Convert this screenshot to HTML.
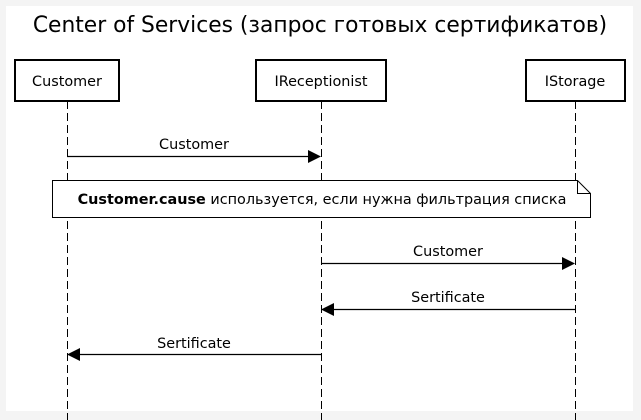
<!DOCTYPE html>
<html><head><meta charset="utf-8"><style>
html,body{margin:0;padding:0;background:#f4f4f4;}
svg{display:block;font-family:"DejaVu Sans","Liberation Sans",sans-serif;}
</style></head><body>
<svg width="641" height="420" viewBox="0 0 641 420" xmlns="http://www.w3.org/2000/svg">
<rect x="6" y="6" width="627" height="405" fill="#fff"/>
<text x="320" y="32" font-size="21.8" text-anchor="middle" fill="#000">Center of Services (запрос готовых сертификатов)</text>
<g stroke="#000" stroke-width="1" stroke-dasharray="8,4" fill="none">
<line x1="67.5" y1="101" x2="67.5" y2="420"/>
<line x1="321.5" y1="101" x2="321.5" y2="420"/>
<line x1="575.5" y1="101" x2="575.5" y2="420"/>
</g>
<g stroke="#000" stroke-width="2" fill="#fff">
<rect x="15" y="60" width="104" height="41"/>
<rect x="256" y="60" width="130" height="41"/>
<rect x="526" y="60" width="99" height="41"/>
</g>
<g font-size="14.4" text-anchor="middle" fill="#000">
<text x="67" y="86">Customer</text>
<text x="321" y="86">IReceptionist</text>
<text x="575" y="86">IStorage</text>
</g>
<g stroke="#000" stroke-width="1.2">
<line x1="67" y1="156.5" x2="310" y2="156.5"/>
<line x1="321" y1="263.5" x2="564" y2="263.5"/>
<line x1="332" y1="309.5" x2="575" y2="309.5"/>
<line x1="78" y1="354.5" x2="321" y2="354.5"/>
</g>
<g fill="#000">
<polygon points="321,156.5 308,150 308,163"/>
<polygon points="575,263.5 562,257 562,270"/>
<polygon points="321,309.5 334,303 334,316"/>
<polygon points="67,354.5 80,348 80,361"/>
</g>
<g font-size="14.4" text-anchor="middle" fill="#000">
<text x="194" y="149">Customer</text>
<text x="448" y="256">Customer</text>
<text x="448" y="302">Sertificate</text>
<text x="194" y="348">Sertificate</text>
</g>
<path d="M52.5,180.5 H577.5 L590.5,193.5 V217.5 H52.5 Z" fill="#fff" stroke="#000" stroke-width="1"/>
<path d="M577.5,180.5 V193.5 H590.5" fill="none" stroke="#000" stroke-width="1"/>
<text x="322" y="204" font-size="14.4" text-anchor="middle" fill="#000"><tspan font-weight="bold">Customer.cause</tspan> используется, если нужна фильтрация списка</text>
</svg>
</body></html>
